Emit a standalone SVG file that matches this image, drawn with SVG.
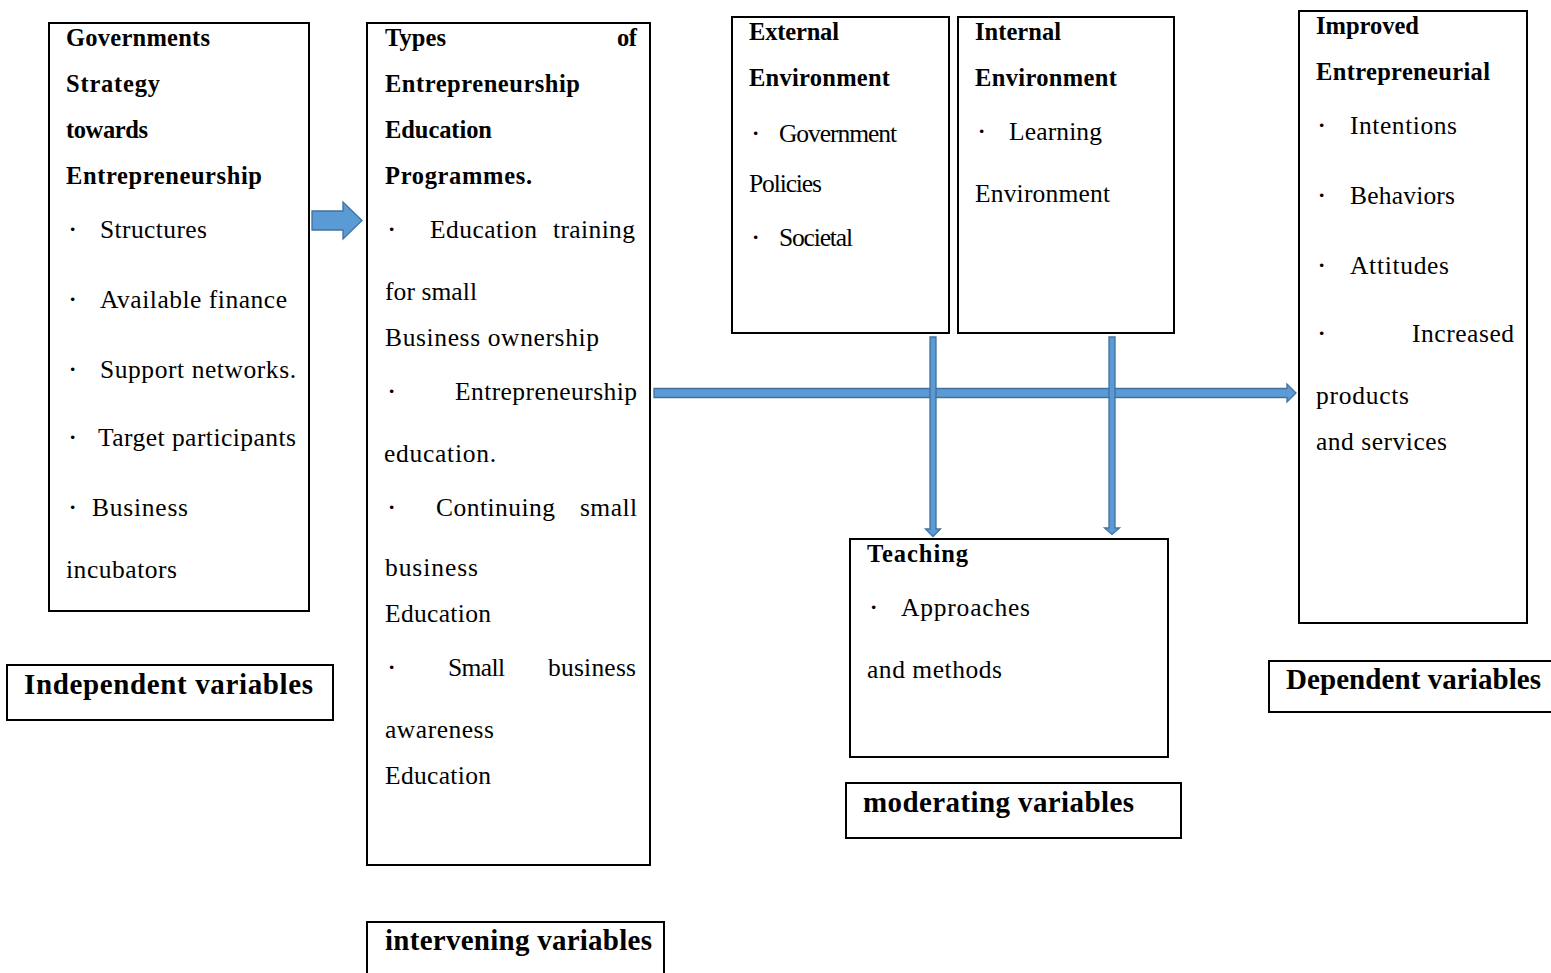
<svg xmlns="http://www.w3.org/2000/svg" width="1551" height="973" viewBox="0 0 1551 973">
<style>
.box{fill:#fff;stroke:#000;stroke-width:2}
.h{font-family:"Liberation Serif","Times New Roman",serif;font-weight:bold;font-size:24.5px;fill:#000}
.t{font-family:"Liberation Serif","Times New Roman",serif;font-size:25.5px;fill:#000}
.lb{font-family:"Liberation Serif","Times New Roman",serif;font-weight:bold;font-size:29px;fill:#000}
.b{font-family:"Liberation Serif","Times New Roman",serif;font-weight:bold;font-size:22px;fill:#000}
.ar{fill:#5B9BD5;stroke:#41719C;stroke-width:1.3;stroke-linejoin:miter}
</style>
<rect width="1551" height="973" fill="#fff"/>

<g id="independent">
<rect class="box" x="49" y="23" width="260" height="588"/>
<text class="h" x="66" y="46" textLength="144" lengthAdjust="spacing">Governments</text>
<text class="h" x="66" y="92" textLength="94" lengthAdjust="spacing">Strategy</text>
<text class="h" x="66" y="138" textLength="82" lengthAdjust="spacing">towards</text>
<text class="h" x="66" y="184" textLength="196" lengthAdjust="spacing">Entrepreneurship</text>
<text class="b" x="69" y="236">·</text><text class="t" x="100" y="238" textLength="107" lengthAdjust="spacing">Structures</text>
<text class="b" x="69" y="306">·</text><text class="t" x="100" y="308" textLength="187" lengthAdjust="spacing">Available finance</text>
<text class="b" x="69" y="376">·</text><text class="t" x="100" y="378" textLength="196" lengthAdjust="spacing">Support networks.</text>
<text class="b" x="69" y="444">·</text><text class="t" x="98" y="446" textLength="198" lengthAdjust="spacing">Target participants</text>
<text class="b" x="69" y="514">·</text><text class="t" x="92" y="516" textLength="96" lengthAdjust="spacing">Business</text>
<text class="t" x="66" y="578" textLength="111" lengthAdjust="spacing">incubators</text>
</g>

<g id="intervening">
<rect class="box" x="367" y="23" width="283" height="842"/>
<text class="h" x="385" y="46" textLength="61" lengthAdjust="spacing">Types</text>
<text class="h" x="617" y="46" textLength="20" lengthAdjust="spacing">of</text>
<text class="h" x="385" y="92" textLength="195" lengthAdjust="spacing">Entrepreneurship</text>
<text class="h" x="385" y="138" textLength="107" lengthAdjust="spacing">Education</text>
<text class="h" x="385" y="184" textLength="147" lengthAdjust="spacing">Programmes.</text>
<text class="b" x="388" y="236">·</text>
<text class="t" x="430" y="238" textLength="107" lengthAdjust="spacing">Education</text>
<text class="t" x="553" y="238" textLength="82" lengthAdjust="spacing">training</text>
<text class="t" x="385" y="300" textLength="92" lengthAdjust="spacing">for small</text>
<text class="t" x="385" y="346" textLength="214" lengthAdjust="spacing">Business ownership</text>
<text class="b" x="388" y="398">·</text>
<text class="t" x="455" y="400" textLength="182" lengthAdjust="spacing">Entrepreneurship</text>
<text class="t" x="384" y="462" textLength="112" lengthAdjust="spacing">education.</text>
<text class="b" x="388" y="514">·</text>
<text class="t" x="436" y="516" textLength="119" lengthAdjust="spacing">Continuing</text>
<text class="t" x="580" y="516" textLength="57" lengthAdjust="spacing">small</text>
<text class="t" x="385" y="576" textLength="93" lengthAdjust="spacing">business</text>
<text class="t" x="385" y="622" textLength="106" lengthAdjust="spacing">Education</text>
<text class="b" x="388" y="674">·</text>
<text class="t" x="448" y="676" textLength="57" lengthAdjust="spacing">Small</text>
<text class="t" x="548" y="676" textLength="88" lengthAdjust="spacing">business</text>
<text class="t" x="385" y="738" textLength="109" lengthAdjust="spacing">awareness</text>
<text class="t" x="385" y="784" textLength="106" lengthAdjust="spacing">Education</text>
</g>

<g id="external">
<rect class="box" x="732" y="17" width="217" height="316"/>
<text class="h" x="749" y="40" textLength="90" lengthAdjust="spacing">External</text>
<text class="h" x="749" y="86" textLength="141" lengthAdjust="spacing">Environment</text>
<text class="b" x="752" y="140">·</text>
<text class="t" x="779" y="142" textLength="118" lengthAdjust="spacing">Government</text>
<text class="t" x="749" y="192" textLength="73" lengthAdjust="spacing">Policies</text>
<text class="b" x="752" y="244">·</text>
<text class="t" x="779" y="246" textLength="74" lengthAdjust="spacing">Societal</text>
</g>

<g id="internal">
<rect class="box" x="958" y="17" width="216" height="316"/>
<text class="h" x="975" y="40" textLength="86" lengthAdjust="spacing">Internal</text>
<text class="h" x="975" y="86" textLength="142" lengthAdjust="spacing">Environment</text>
<text class="b" x="978" y="138">·</text>
<text class="t" x="1009" y="140" textLength="93" lengthAdjust="spacing">Learning</text>
<text class="t" x="975" y="202" textLength="135" lengthAdjust="spacing">Environment</text>
</g>

<g id="dependent">
<rect class="box" x="1299" y="11" width="228" height="612"/>
<text class="h" x="1316" y="34" textLength="103" lengthAdjust="spacing">Improved</text>
<text class="h" x="1316" y="80" textLength="174" lengthAdjust="spacing">Entrepreneurial</text>
<text class="b" x="1318" y="132">·</text>
<text class="t" x="1350" y="134" textLength="107" lengthAdjust="spacing">Intentions</text>
<text class="b" x="1318" y="202">·</text>
<text class="t" x="1350" y="204" textLength="105" lengthAdjust="spacing">Behaviors</text>
<text class="b" x="1318" y="272">·</text>
<text class="t" x="1350" y="274" textLength="99" lengthAdjust="spacing">Attitudes</text>
<text class="b" x="1318" y="340">·</text>
<text class="t" x="1412" y="342" textLength="102" lengthAdjust="spacing">Increased</text>
<text class="t" x="1316" y="404" textLength="93" lengthAdjust="spacing">products</text>
<text class="t" x="1316" y="450" textLength="131" lengthAdjust="spacing">and services</text>
</g>

<g id="teaching">
<rect class="box" x="850" y="539" width="318" height="218"/>
<text class="h" x="867" y="562" textLength="101" lengthAdjust="spacing">Teaching</text>
<text class="b" x="870" y="614">·</text>
<text class="t" x="901" y="616" textLength="129" lengthAdjust="spacing">Approaches</text>
<text class="t" x="867" y="678" textLength="135" lengthAdjust="spacing">and methods</text>
</g>

<g id="label-independent">
<rect class="box" x="7" y="665" width="326" height="55"/>
<text class="lb" x="24" y="694" textLength="289" lengthAdjust="spacing">Independent variables</text>
</g>
<g id="label-intervening">
<rect class="box" x="367" y="922" width="297" height="55"/>
<text class="lb" x="385" y="950" textLength="267" lengthAdjust="spacing">intervening variables</text>
</g>
<g id="label-moderating">
<rect class="box" x="846" y="783" width="335" height="55"/>
<text class="lb" x="863" y="812" textLength="271" lengthAdjust="spacing">moderating variables</text>
</g>
<g id="label-dependent">
<rect class="box" x="1269" y="661" width="290" height="51"/>
<text class="lb" x="1286" y="689" textLength="255" lengthAdjust="spacing">Dependent variables</text>
</g>

<g id="connectors">
<path class="ar" d="M312,211 L343,211 L343,202 L362,220.5 L343,239 L343,230 L312,230 Z"/>
<path class="ar" d="M654,388.5 L1287,388.5 L1287,384 L1296,393 L1287,402 L1287,397.5 L654,397.5 Z"/>
<path class="ar" d="M930,337 L936,337 L936,529 L940.5,529 L933,536.5 L925.5,529 L930,529 Z"/>
<path class="ar" d="M1109,337 L1115,337 L1115,528 L1119.5,528 L1112,534.5 L1104.5,528 L1109,528 Z"/>
</g>
</svg>
